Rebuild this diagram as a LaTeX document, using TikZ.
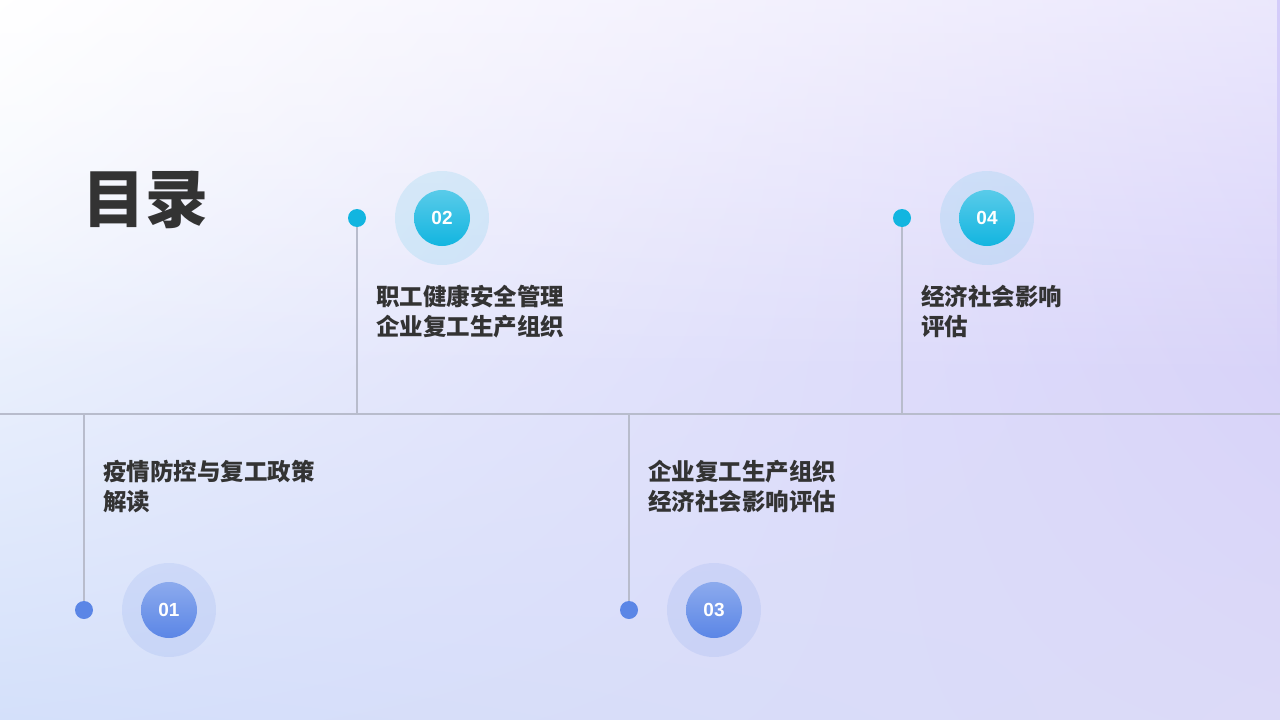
\documentclass[tikz,border=0pt]{standalone}
\usepackage{fontspec}
\usetikzlibrary{shadings,fadings}
\setmainfont{Noto Sans CJK SC}
\setsansfont{Liberation Sans}
\definecolor{lineg}{HTML}{B8BCCC}
\definecolor{cyanD}{HTML}{12B5E0}
\definecolor{blueD}{HTML}{5B86E6}
\definecolor{txt}{HTML}{333333}
\definecolor{bgA}{RGB}{212,204,250}
\definecolor{bgB}{RGB}{212,224,250}
\definecolor{bgC}{RGB}{220,218,248}
\tikzset{
 itemtxt/.style={anchor=north west,align=left,text=txt,font=\fontsize{23.5}{30}\selectfont\bfseries,inner sep=0pt},
 num/.style={text=white,font=\sffamily\bfseries\fontsize{19}{19}\selectfont}
}
\begin{document}
\begin{tikzpicture}[x=1pt,y=-1pt]
\useasboundingbox (0,0) rectangle (1280,720);
\shade[upper left=white,upper right=bgA,lower left=bgB,lower right=bgC] (0,0) rectangle (1280,720);
\fill[white,opacity=0.55,path fading=south] (0,0) rectangle (1280,380);
\node[anchor=west,text=txt,font=\fontsize{63}{63}\selectfont\bfseries,inner sep=0pt] (title) at (82,200) {目录};
\coordinate (L) at (0,414); \coordinate (R) at (1280,414);
\draw[lineg,line width=1.2pt] (L) -- (R);
\foreach \n/\x/\y/\c/\lab in {a/84/610/blueD/01,b/357/218/cyanD/02,c/629/610/blueD/03,d/902/218/cyanD/04}{
  \coordinate (\n base) at (\x,414);
  \node[circle,fill=\c,minimum size=18pt,inner sep=0pt] (\n dot) at (\x,\y) {};
  \draw[lineg,line width=1.2pt] (\n dot) -- (\n base);
  \node[circle,fill=\c,opacity=0.12,minimum size=94pt,inner sep=0pt] (\n halo) at (\x+85,\y) {};
  \node[circle,top color=\c!70!white,bottom color=\c,minimum size=56pt,inner sep=0pt,num] (\n num) at (\x+85,\y) {\lab};
}
\node[itemtxt] (ta) at (103,460) {疫情防控与复工政策\\解读};
\node[itemtxt] (tb) at (376,285) {职工健康安全管理\\企业复工生产组织};
\node[itemtxt] (tc) at (648,460) {企业复工生产组织\\经济社会影响评估};
\node[itemtxt] (td) at (921,285) {经济社会影响\\评估};
\end{tikzpicture}
\end{document}
